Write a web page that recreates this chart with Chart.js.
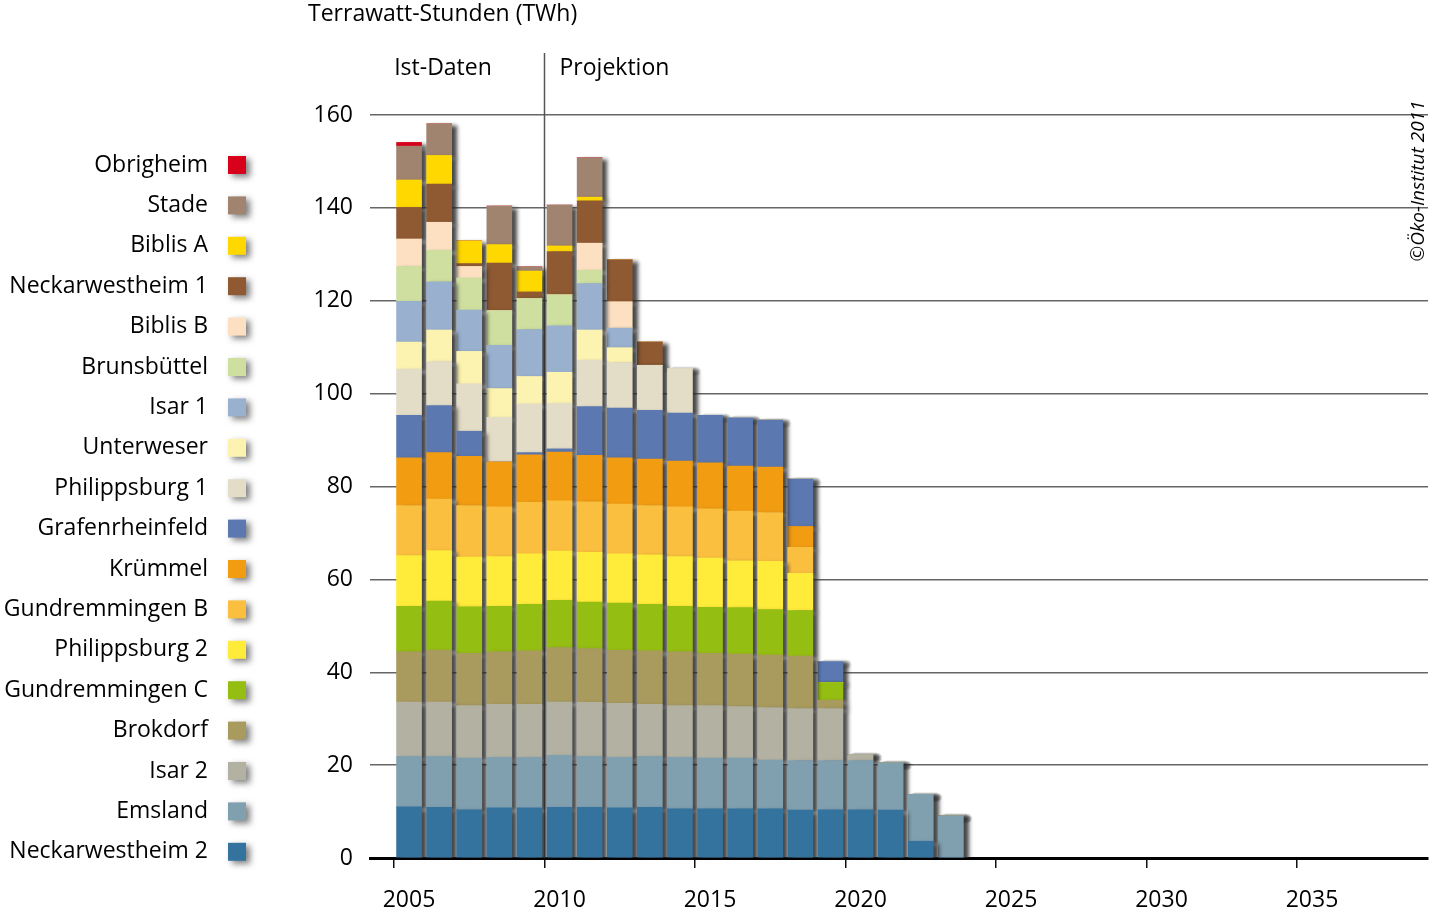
<!DOCTYPE html>
<html>
<head>
<meta charset="utf-8">
<script src="https://cdn.jsdelivr.net/npm/chart.js@4"></script>
<style>
  html, body { margin: 0; padding: 0; background: #fff; }
  #wrap { width: 1432px; height: 915px; }
</style>
</head>
<body>
<div id="wrap"><canvas id="chart" width="1432" height="915"></canvas></div>
<script>
// Jahre mit Balken (2005-2023)
const years = [2005,2006,2007,2008,2009,2010,2011,2012,2013,2014,2015,2016,2017,2018,2019,2020,2021,2022,2023];
const xTicks = [2005,2010,2015,2020,2025,2030,2035];
const yTicks = [0,20,40,60,80,100,120,140,160];

// Stapelreihenfolge: unten -> oben (TWh)
const neckarwestheim2 = [11.0,10.9,10.4,10.8,10.8,10.9,10.9,10.8,10.9,10.6,10.6,10.6,10.6,10.3,10.4,10.4,10.3,3.6,0];
const emsland         = [10.9,11.0,11.1,10.9,10.9,11.2,11.0,10.9,11.0,11.1,10.9,10.9,10.5,10.7,10.6,10.6,10.2,10.1,9.1];
const isar2           = [11.7,11.7,11.3,11.4,11.4,11.5,11.6,11.6,11.2,11.1,11.3,11.1,11.3,11.2,11.2,1.3,0,0,0];
const brokdorf        = [10.8,11.2,11.3,11.3,11.5,11.7,11.6,11.4,11.5,11.6,11.3,11.3,11.3,11.3,1.8,0,0,0,0];
const gundremmingenC  = [9.8,10.5,10.0,9.8,10.0,10.2,10.0,10.2,10.0,9.8,9.9,10.0,9.8,9.8,3.8,0,0,0,0];
const philippsburg2   = [10.9,10.9,10.7,10.7,10.9,10.6,10.7,10.6,10.7,10.7,10.6,10.1,10.4,8.0,0,0,0,0,0];
const gundremmingenB  = [10.8,11.1,11.1,10.7,11.1,10.8,10.9,10.7,10.6,10.7,10.6,10.7,10.5,5.6,0,0,0,0,0];
const kruemmel        = [10.3,10.0,10.6,9.7,10.2,10.5,10.0,10.0,10.0,9.9,9.9,9.7,9.8,4.5,0,0,0,0,0];
const grafenrheinfeld = [9.1,10.1,5.4,0,0.5,0.7,10.5,10.7,10.5,10.3,10.2,10.4,10.1,10.2,4.5,0,0,0,0];
const philippsburg1   = [10.0,9.5,10.2,9.6,10.5,9.8,10.0,9.8,9.7,9.6,0,0,0,0,0,0,0,0,0];
const unterweser      = [5.8,6.8,7.0,6.2,5.9,6.7,6.5,3.2,0,0,0,0,0,0,0,0,0,0,0];
const isar1           = [8.8,10.4,8.9,9.3,10.1,10.0,10.0,4.2,0,0,0,0,0,0,0,0,0,0,0];
const brunsbuettel    = [7.5,6.8,6.9,7.5,6.7,6.7,2.9,0,0,0,0,0,0,0,0,0,0,0,0];
const biblisB         = [5.9,6.0,2.5,0,0,0,5.8,5.7,0,0,0,0,0,0,0,0,0,0,0];
const neckarwestheim1 = [6.8,8.2,0.6,10.2,1.4,9.3,9.1,9.0,5.0,0,0,0,0,0,0,0,0,0,0];
const biblisA         = [5.9,6.2,4.9,4.0,4.5,1.2,0.8,0,0,0,0,0,0,0,0,0,0,0,0];
const stade           = [7.3,6.8,0,8.3,0.9,8.8,8.5,0,0,0,0,0,0,0,0,0,0,0,0];
const obrigheim       = [0.8,0,0,0,0,0,0,0,0,0,0,0,0,0,0,0,0,0,0];

const names = ['Neckarwestheim 2','Emsland','Isar 2','Brokdorf','Gundremmingen C','Philippsburg 2','Gundremmingen B','Krümmel','Grafenrheinfeld','Philippsburg 1','Unterweser','Isar 1','Brunsbüttel','Biblis B','Neckarwestheim 1','Biblis A','Stade','Obrigheim'];
const series = [neckarwestheim2,emsland,isar2,brokdorf,gundremmingenC,philippsburg2,gundremmingenB,kruemmel,grafenrheinfeld,philippsburg1,unterweser,isar1,brunsbuettel,biblisB,neckarwestheim1,biblisA,stade,obrigheim];
const colors = ['#35739f','#80a0b0','#b2b1a2','#a99a5e','#95be13','#ffeb3a','#fbbf3f','#f29c12','#5b78b1','#e3dcc7','#fdf3b0','#99b1cf','#cfdf9f','#fde0c1','#8f5a32','#ffd800','#a08470','#d9001b'];

const FONT = '"Open Sans", "Noto Sans", sans-serif';

const decoPlugin = {
  id: 'deco',
  beforeDatasetsDraw(chart) {
    const ctx = chart.ctx, x = chart.scales.x, a = chart.chartArea;
    const dx = x.getPixelForValue(2010);
    ctx.save();
    ctx.strokeStyle = '#555';
    ctx.lineWidth = 1.5;
    ctx.beginPath();
    ctx.moveTo(dx, 53);
    ctx.lineTo(dx, a.bottom);
    ctx.stroke();
    ctx.restore();
    // Schlagschatten der Balken
    ctx.save();
    ctx.shadowColor = 'rgba(40,40,40,0.85)';
    ctx.shadowBlur = 4;
    ctx.shadowOffsetX = 5;
    ctx.shadowOffsetY = 3;
  },
  afterDatasetsDraw(chart) {
    chart.ctx.restore();
  },
  afterDraw(chart) {
    const ctx = chart.ctx, x = chart.scales.x;
    ctx.save();
    ctx.fillStyle = '#000';
    ctx.font = '23px ' + FONT;
    ctx.textBaseline = 'middle';
    ctx.textAlign = 'left';
    ctx.fillText('Terrawatt-Stunden (TWh)', 308, 14);
    ctx.textAlign = 'center';
    ctx.fillText('Ist-Daten', 443, 68);
    ctx.textAlign = 'left';
    ctx.fillText('Projektion', x.getPixelForValue(2010) + 15, 68);

    // Legende (oben -> unten)
    for (let k = 0; k < names.length; k++) {
      const i = names.length - 1 - k;
      const cy = 165 + k * 40.4;
      ctx.textAlign = 'right';
      ctx.fillStyle = '#000';
      ctx.fillText(names[i], 208, cy);
      ctx.save();
      ctx.shadowColor = 'rgba(0,0,0,0.5)';
      ctx.shadowBlur = 6;
      ctx.shadowOffsetX = 4;
      ctx.shadowOffsetY = 3;
      ctx.fillStyle = colors[i];
      ctx.fillRect(228, cy - 9, 18, 18);
      ctx.restore();
    }

    ctx.translate(1419, 181);
    ctx.rotate(-Math.PI / 2);
    ctx.textAlign = 'center';
    ctx.font = 'italic 19px ' + FONT;
    ctx.fillText('©Öko-Institut 2011', 0, 0);
    ctx.restore();
  }
};

new Chart(document.getElementById('chart'), {
  type: 'bar',
  data: {
    datasets: series.map((vals, i) => ({
      label: names[i],
      data: years.map((yr, j) => ({ x: yr + 0.5, y: vals[j] })),
      backgroundColor: colors[i],
      borderWidth: 0,
      barThickness: 25
    }))
  },
  options: {
    responsive: false,
    devicePixelRatio: 1,
    animation: false,
    layout: { padding: { left: 300, top: 115, right: 4, bottom: 0 } },
    plugins: { legend: { display: false }, tooltip: { enabled: false } },
    scales: {
      x: {
        type: 'linear',
        stacked: true,
        offset: false,
        min: 2005 - 24 / 30.1,
        max: 2005 + 1034 / 30.1,
        afterBuildTicks: s => { s.ticks = xTicks.map(v => ({ value: v })); },
        afterFit: s => { s.height = 57; },
        ticks: {
          callback: v => String(v),
          autoSkip: false,
          maxRotation: 0,
          labelOffset: 15,
          padding: 19,
          color: '#000',
          font: { family: FONT, size: 23 }
        },
        grid: { offset: false, drawOnChartArea: false, drawTicks: true, tickLength: 10, color: '#111', lineWidth: 1.5 },
        border: { display: true, color: '#000', width: 3 }
      },
      y: {
        stacked: true,
        min: 0,
        max: 160,
        afterBuildTicks: s => { s.ticks = yTicks.map(v => ({ value: v })); },
        afterFit: s => { s.width = 70; },
        ticks: {
          padding: 17,
          color: '#000',
          font: { family: FONT, size: 23 }
        },
        grid: { drawTicks: false, color: '#666', lineWidth: 1.5 },
        border: { display: false }
      }
    }
  },
  plugins: [decoPlugin]
});
</script>
</body>
</html>
